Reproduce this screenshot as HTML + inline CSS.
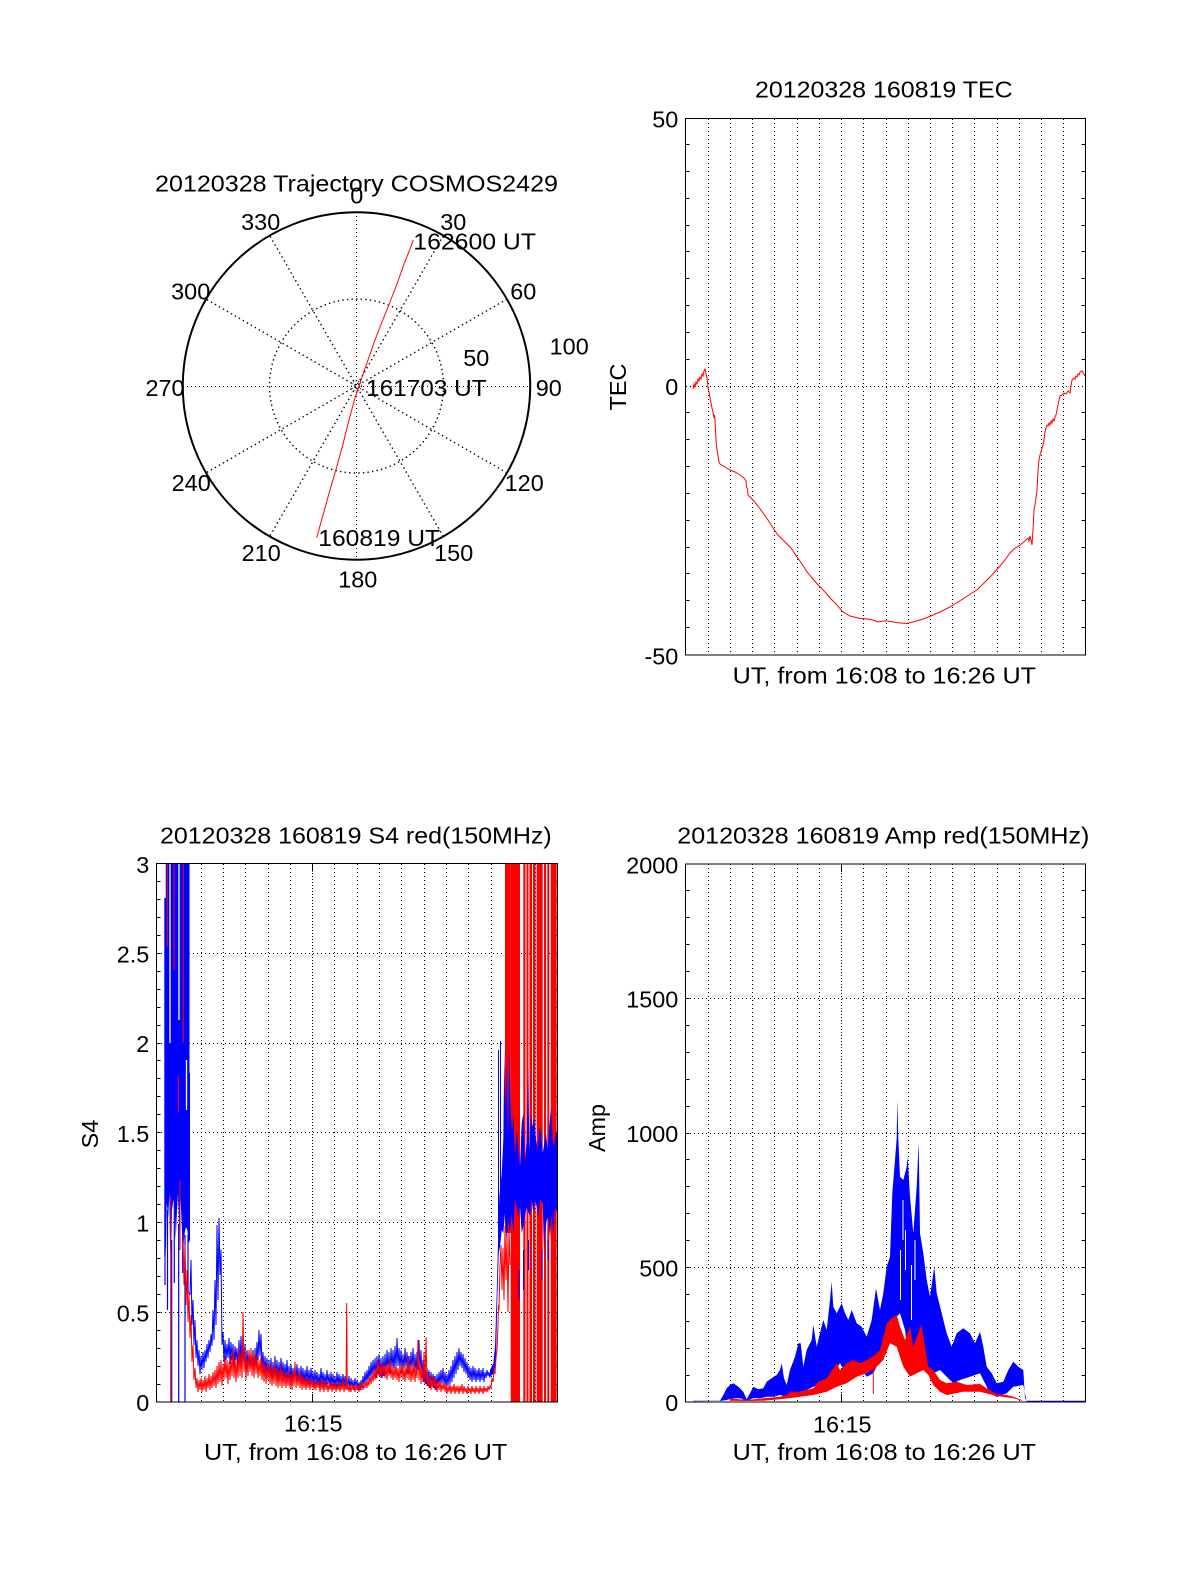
<!DOCTYPE html>
<html>
<head>
<meta charset="utf-8">
<style>
html,body{margin:0;padding:0;background:#fff;}
svg{display:block;}
text{font-family:"Liberation Sans",Arial,sans-serif;font-size:23.4px;fill:#000;}
.dot{stroke:#000;stroke-width:1;stroke-dasharray:1 3;fill:none;shape-rendering:crispEdges;}
.pdot{stroke:#000;stroke-width:1.4;stroke-dasharray:1.4 3.2;fill:none;}
.ax{stroke:#000;stroke-width:1;fill:none;shape-rendering:crispEdges;}
</style>
</head>
<body>
<svg width="1200" height="1575" viewBox="0 0 1200 1575" xmlns="http://www.w3.org/2000/svg">
<rect x="0" y="0" width="1200" height="1575" fill="#fff"/>

<!-- ================= POLAR PLOT ================= -->
<g>
  <path class="pdot" d="M443.35,235.57L269.65,536.43 M506.93,299.15L206.07,472.85 M506.93,472.85L206.07,299.15 M443.35,536.43L269.65,235.57"/>
  <path class="dot" d="M356.5,212V560 M183,386.5H530"/>
  <circle class="pdot" cx="356.5" cy="386" r="87"/>
  <circle class="pdot" cx="356.5" cy="386" r="5" style="stroke-dasharray:1 1.5;stroke-width:1"/>
  <circle cx="356.5" cy="386" r="173.7" fill="none" stroke="#000" stroke-width="2"/>
  <polyline fill="none" stroke="#ff0000" stroke-width="1" points="316.7,537.7 323,515 330,490 337,466 343,444 349,420 355,398 358.3,388.3 362,377 368,360 375,340 382,322 390,302 397,284 404,264 410,249 413.3,240"/>
  <text x="155" y="191.7" textLength="403" lengthAdjust="spacingAndGlyphs">20120328 Trajectory COSMOS2429</text>
  <text x="356.7" y="203.3" text-anchor="middle">0</text>
  <text x="453.3" y="230" text-anchor="middle">30</text>
  <text x="260.7" y="230" text-anchor="middle">330</text>
  <text x="523.3" y="299.3" text-anchor="middle">60</text>
  <text x="190.7" y="299.3" text-anchor="middle">300</text>
  <text x="569.2" y="354.3" text-anchor="middle">100</text>
  <text x="476.3" y="366" text-anchor="middle">50</text>
  <text x="165" y="396" text-anchor="middle">270</text>
  <text x="548.8" y="396" text-anchor="middle">90</text>
  <text x="191.2" y="491" text-anchor="middle">240</text>
  <text x="524.2" y="491" text-anchor="middle">120</text>
  <text x="261.2" y="561" text-anchor="middle">210</text>
  <text x="453.7" y="561" text-anchor="middle">150</text>
  <text x="357.8" y="587.3" text-anchor="middle">180</text>
  <text x="413.3" y="249.3" textLength="122.7" lengthAdjust="spacingAndGlyphs">162600 UT</text>
  <text x="366" y="396" textLength="120.7" lengthAdjust="spacingAndGlyphs">161703 UT</text>
  <text x="318.3" y="546" textLength="121.7" lengthAdjust="spacingAndGlyphs">160819 UT</text>
</g>

<!-- ================= TEC PLOT ================= -->
<g>
  <path class="dot" d="M708.5,119V655 M730.5,119V655 M752.5,119V655 M774.5,119V655 M797.5,119V655 M819.5,119V655 M841.5,119V655 M863.5,119V655 M886.5,119V655 M908.5,119V655 M930.5,119V655 M952.5,119V655 M974.5,119V655 M997.5,119V655 M1019.5,119V655 M1041.5,119V655 M1063.5,119V655 M686,386.5H1085"/>
  <path class="ax" d="M685.5,144.5h4M685.5,171.5h4M685.5,198.5h4M685.5,225.5h4M685.5,251.5h4M685.5,278.5h4M685.5,305.5h4M685.5,332.5h4M685.5,359.5h4M685.5,412.5h4M685.5,439.5h4M685.5,466.5h4M685.5,493.5h4M685.5,520.5h4M685.5,547.5h4M685.5,573.5h4M685.5,600.5h4M685.5,627.5h4
  M1085.5,144.5h-4M1085.5,171.5h-4M1085.5,198.5h-4M1085.5,225.5h-4M1085.5,251.5h-4M1085.5,278.5h-4M1085.5,305.5h-4M1085.5,332.5h-4M1085.5,359.5h-4M1085.5,412.5h-4M1085.5,439.5h-4M1085.5,466.5h-4M1085.5,493.5h-4M1085.5,520.5h-4M1085.5,547.5h-4M1085.5,573.5h-4M1085.5,600.5h-4M1085.5,627.5h-4"/>
  <polyline fill="none" stroke="#ff0000" stroke-width="1" points="693,389 694,384 695,387 696,382 697,384 698,379 699,381 700,377 701,379 702,374 703,376 704,371 705,369 706,374 707,378 708,387 709,392 710,398 711,403 712,408 713,412 714,418 714.5,415 715,420 715.5,430 716,440 717,450 718,456 719,462 720,464 725,467 730,470 735,472 740,475 744,478 746,481 746.5,487 747.5,489 748,495 753,500 758,506 763,513 768,520 773,528 778,535 786,543 791,548 797,557 802,564 807,572 813,579 820,587 825,592 830,598 836,604 843,612 850,616 860,618.5 868,619 873,620 878,622 883,621 888,621 893,622 900,623 907,623.5 913,622 920,620 926,618 933,615 940,612 950,607 958,602 966,597 972,593 977,590 982,585 987,580 993,574 1000,566 1005,560 1010,553 1014,549 1020,545 1025,541 1028,538 1029,541 1030,536 1031,540 1032,545 1033,530 1034,510 1035,505 1036,498 1037,490 1038,470 1039,460 1040,455 1041,452 1042,448 1043,445 1044,440 1045,432 1046,428 1047,425 1048,426 1049,423 1050,425 1051,421 1052,423 1053,419 1054,421 1055,417 1056,415 1057,410 1058,405 1059,400 1060,396 1062,395 1064,393 1066,394 1068,391 1070,393 1071,386 1072,380 1074,378 1075,379 1076,376 1077,377 1078,374 1079,375 1080,372 1082,371 1084,374 1085,376"/>
  <rect class="ax" x="685.5" y="118.5" width="400" height="536.5"/>
  <text x="755" y="97.3" textLength="257.7" lengthAdjust="spacingAndGlyphs">20120328 160819 TEC</text>
  <text x="678.3" y="127.3" text-anchor="end">50</text>
  <text x="678.3" y="395" text-anchor="end">0</text>
  <text x="678.3" y="664.5" text-anchor="end">-50</text>
  <text transform="translate(626,387) rotate(-90)" text-anchor="middle">TEC</text>
  <text x="732.7" y="683.3" textLength="303.3" lengthAdjust="spacingAndGlyphs">UT, from 16:08 to 16:26 UT</text>
</g>

<!-- ================= S4 PLOT ================= -->
<g>
  <path class="dot" d="M178.5,864V1402 M201.5,864V1402 M223.5,864V1402 M245.5,864V1402 M268.5,864V1402 M290.5,864V1402 M334.5,864V1402 M357.5,864V1402 M379.5,864V1402 M401.5,864V1402 M424.5,864V1402 M446.5,864V1402 M468.5,864V1402 M491.5,864V1402 M513.5,864V1402 M535.5,864V1402
  M157,1312.5H557 M157,1222.5H557 M157,1132.5H557 M157,1043.5H557 M157,953.5H557"/>
  <path d="M312.5,864V1402" stroke="#000" stroke-width="1" stroke-dasharray="1 2" shape-rendering="crispEdges"/>
  <path class="ax" d="M312.5,1402v-8M312.5,863.5v8"/>
  <path class="ax" d="M156.5,1384.5h4M156.5,1366.5h4M156.5,1348.5h4M156.5,1330.5h4M156.5,1312.5h4M156.5,1294.5h4M156.5,1276.5h4M156.5,1258.5h4M156.5,1240.5h4M156.5,1222.5h4M156.5,1204.5h4M156.5,1186.5h4M156.5,1168.5h4M156.5,1150.5h4M156.5,1132.5h4M156.5,1114.5h4M156.5,1096.5h4M156.5,1078.5h4M156.5,1060.5h4M156.5,1043.5h4M156.5,1025.5h4M156.5,1007.5h4M156.5,989.5h4M156.5,971.5h4M156.5,953.5h4M156.5,935.5h4M156.5,917.5h4M156.5,899.5h4M156.5,881.5h4
  M557.5,1384.5h-4M557.5,1366.5h-4M557.5,1348.5h-4M557.5,1330.5h-4M557.5,1312.5h-4M557.5,1294.5h-4M557.5,1276.5h-4M557.5,1258.5h-4M557.5,1240.5h-4M557.5,1222.5h-4M557.5,1204.5h-4M557.5,1186.5h-4M557.5,1168.5h-4M557.5,1150.5h-4M557.5,1132.5h-4M557.5,1114.5h-4M557.5,1096.5h-4M557.5,1078.5h-4M557.5,1060.5h-4M557.5,1043.5h-4M557.5,1025.5h-4M557.5,1007.5h-4M557.5,989.5h-4M557.5,971.5h-4M557.5,953.5h-4M557.5,935.5h-4M557.5,917.5h-4M557.5,899.5h-4M557.5,881.5h-4"/>

  <!-- red right bars -->
  <g fill="#ff0000">
    <rect x="505" y="864" width="5.7" height="369"/>
    <rect x="510.7" y="864" width="9.3" height="538"/>
    <rect x="523.3" y="864" width="2.2" height="538"/>
    <rect x="526.5" y="864" width="2" height="538"/>
    <rect x="529.5" y="864" width="2.5" height="538"/>
    <rect x="533" y="864" width="2.5" height="538"/>
    <rect x="536.7" y="864" width="6" height="538"/>
    <rect x="544" y="864" width="2" height="538"/>
    <rect x="547.3" y="864" width="2" height="538"/>
    <rect x="550.7" y="864" width="6" height="538"/>
  </g>

  <!-- blue left block -->
  <polygon fill="#0000ff" points="164.3,898 165.7,898 165.7,864 189.5,864 189.5,1073 190,1073 190,1240 188.7,1243 187.3,1230 186,1227 184.7,1233 183.3,1247 182,1233 180.7,1200 179.3,1233 178,1193 176.7,1217 175.7,1240 174.7,1207 173.3,1200 172,1210 171,1263 170,1247 169.3,1193 168.3,1217 166.7,1203 166,1247 165,1263 164.3,1255"/>
  <path stroke="#0000ff" stroke-width="1.2" fill="none" d="M171.7,1240V1402 M178.7,1225V1402 M185,1235V1402 M174.3,1200V1283 M182.7,1230V1273 M188,1235V1293 M165,1250V1285 M167.5,1210V1310"/>
  <path stroke="#fff" stroke-width="1.3" fill="none" d="M170,864V1043 M179,864V1020 M186.5,1060V1110"/>
  <path stroke="#ff0000" stroke-width="1" fill="none" d="M167.3,864V947 M174,864V970 M178.3,1075V1112 M183.3,864V1043 M170.7,1197V1402 M180,1180V1250"/>

  <!-- blue middle trace -->
  <polyline fill="none" stroke="#0000ff" stroke-width="1" points="190,1295 191,1260 192,1325 193,1300 194,1345 195,1320 196,1358 197,1340 198,1366 199,1350 200,1374 201,1356 202,1370 203,1352 204,1368 205,1350 206,1362 207,1344 208,1358 209,1340 210,1352 211,1334 212,1346 213,1310 214,1340 215,1280 216,1325 217,1225 218,1300 219,1218 220,1275 221,1250 222,1345 223,1332 224,1362 225,1340 226,1360 227,1344 228,1358 229,1338 230,1364 231,1342 232,1360 233,1344 234,1366 235,1346 236,1360 237,1348 238,1368 239,1340 240,1362 241,1336 242,1368 243,1348 244,1364 245,1344 246,1372 247,1350 248,1366 249,1352 250,1370 251,1354 252,1368 253,1350 254,1372 255,1348 256,1366 257,1342 258,1360 259,1330 260,1356 261,1334 262,1368 263,1352 264,1374 265,1356 266,1372 267,1358 268,1378 269,1360 270,1376 271,1358 272,1380 273,1362 274,1378 275,1356 276,1376 277,1360 278,1380 279,1362 280,1377 281,1358 282,1376 283,1362 284,1380 285,1364 286,1378 287,1360 288,1380 289,1366 290,1382 291,1364 292,1380 293,1368 294,1382 295,1366 296,1380 297,1364 298,1382 299,1368 300,1384 301,1366 302,1382 303,1368 304,1384 305,1370 306,1382 307,1366 308,1384 309,1370 310,1384 311,1368 312,1382 313,1372 314,1386 315,1370 316,1384 317,1372 318,1386 319,1374 320,1386 321,1368 322,1384 323,1372 324,1386 325,1374 326,1386 327,1370 328,1384 329,1374 330,1388 331,1372 332,1386 333,1374 334,1388 335,1376 336,1388 337,1372 338,1386 339,1374 340,1386 341,1376 342,1388 343,1374 344,1386 345,1376 346,1390 347,1378 348,1388 349,1376 350,1390 351,1378 352,1388 353,1380 354,1390 355,1378 356,1388 357,1380 358,1390 359,1382 360,1390 361,1380 362,1388 363,1376 364,1386 365,1372 366,1384 367,1370 368,1382 369,1366 370,1380 371,1362 372,1378 373,1360 374,1376 375,1358 376,1378 377,1356 378,1374 379,1354 380,1376 381,1358 382,1378 383,1356 384,1376 385,1354 386,1374 387,1350 388,1372 389,1352 390,1374 391,1348 392,1370 393,1350 394,1372 395,1346 396,1368 397,1338 398,1366 399,1348 400,1370 401,1350 402,1372 403,1354 404,1370 405,1348 406,1368 407,1352 408,1374 409,1356 410,1372 411,1352 412,1370 413,1348 414,1372 415,1354 416,1374 417,1352 418,1370 419,1340 420,1372 421,1350 422,1378 423,1360 424,1382 425,1364 426,1384 427,1368 428,1386 429,1370 430,1388 431,1372 432,1386 433,1374 434,1388 435,1376 436,1390 437,1374 438,1388 439,1372 440,1386 441,1370 442,1384 443,1368 444,1386 445,1372 446,1388 447,1374 448,1386 449,1370 450,1384 451,1366 452,1382 453,1360 454,1378 455,1356 456,1374 457,1352 458,1370 459,1348 460,1366 461,1352 462,1368 463,1354 464,1372 465,1358 466,1374 467,1362 468,1378 469,1366 470,1380 471,1368 472,1382 473,1366 474,1380 475,1368 476,1382 477,1370 478,1380 479,1368 480,1382 481,1370 482,1380 483,1368 484,1382 485,1372 486,1378 487,1370 488,1376 489,1372 490,1378"/>

  <!-- blue right band -->
  <polygon fill="#0000ff" points="490,1370 493.3,1363.3 495,1346.7 496.7,1293.3 498.3,1230 499.3,1196.7 501.7,1173.3 503.3,1140 504.3,1050 505.3,1106.7 506.7,1066.7 508,1140 509.3,1043.3 510.7,1110 512,1133.3 513.3,1113.3 515,1156.7 516.7,1130 518.3,1150 520,1166.7 521.7,1123.3 523.3,1113.3 525,1163.3 526.7,1140 528.3,1061.7 529.3,1150 531,1113.3 532.7,1126.7 534.3,1118.3 536,1140 537.7,1150 539.3,1126.7 541,1133.3 542.7,1153.3 544.3,1143.3 546,1133.3 547.7,1150 549.3,1126.7 551,1106.7 552.7,1140 554.3,1146.7 556,1131.7 557.3,1133.3 557.3,1213.3 555,1206.7 553.3,1233.3 551.7,1213.3 550,1236.7 548.3,1216.7 546.7,1220 545,1233.3 544,1253.3 542.7,1203.3 540,1200 538.3,1216.7 536.7,1206.7 535,1200 533.3,1213.3 531.7,1200 530,1216.7 526.7,1206.7 523.3,1226.7 521.7,1233.3 520,1206.7 518.3,1216.7 516.7,1206.7 515,1200 513.3,1233.3 511.7,1213.3 510,1233.3 508.3,1220 506.7,1243.3 505,1213.3 503.3,1233.3 501.7,1230 500,1246.7 498.7,1253.3 497.3,1300 496,1360 494,1373.3 490,1376.7"/>
  <path stroke="#0000ff" stroke-width="1" fill="none" d="M498.5,1050V1250 M500.5,1041V1200 M519,1270V1300 M523.5,1250V1290 M528.5,1240V1270 M542,1250V1280 M548,1240V1260"/>

  <!-- red middle trace -->
  <polyline fill="none" stroke="#ff0000" stroke-width="1" points="183,1235 184,1285 185,1245 186,1305 187,1270 188,1322 189,1292 190,1338 191,1315 192,1362 193,1345 194,1380 195,1368 196,1388 197,1378 198,1392 199,1380 200,1390 201,1378 202,1392 203,1380 204,1390 205,1376 206,1392 207,1378 208,1388 209,1374 210,1390 211,1376 212,1388 213,1372 214,1386 215,1370 216,1388 217,1366 218,1384 219,1362 220,1382 221,1360 222,1386 223,1364 224,1380 225,1356 226,1378 227,1360 228,1384 229,1362 230,1380 231,1356 232,1376 233,1350 234,1378 235,1356 236,1382 237,1360 238,1378 239,1348 240,1376 241,1352 242,1378 243,1312 244,1372 245,1350 246,1380 247,1358 248,1376 249,1350 250,1372 251,1348 252,1376 253,1354 254,1378 255,1352 256,1374 257,1356 258,1378 259,1360 260,1376 261,1356 262,1380 263,1362 264,1382 265,1364 266,1384 267,1366 268,1380 269,1362 270,1384 271,1366 272,1386 273,1368 274,1384 275,1362 276,1386 277,1368 278,1388 279,1370 280,1386 281,1366 282,1388 283,1370 284,1386 285,1372 286,1388 287,1374 288,1386 289,1370 290,1388 291,1374 292,1390 293,1372 294,1386 295,1362 296,1388 297,1374 298,1386 299,1372 300,1388 301,1374 302,1390 303,1376 304,1388 305,1378 306,1390 307,1378 308,1388 309,1380 310,1390 311,1378 312,1388 313,1380 314,1390 315,1382 316,1390 317,1380 318,1388 319,1382 320,1392 321,1380 322,1390 323,1382 324,1392 325,1380 326,1390 327,1382 328,1392 329,1384 330,1390 331,1382 332,1392 333,1384 334,1390 335,1382 336,1392 337,1384 338,1390 339,1382 340,1392 341,1384 342,1390 343,1380 344,1392 345,1384 346,1390 346.7,1303 347.3,1390 348,1384 349,1392 350,1386 351,1392 352,1384 353,1390 354,1386 355,1392 356,1384 357,1390 358,1386 359,1392 360,1384 361,1390 362,1382 363,1390 364,1384 365,1388 366,1380 367,1388 368,1380 369,1386 370,1376 371,1384 372,1374 373,1382 374,1370 375,1380 376,1368 377,1378 378,1360 379,1376 380,1366 381,1378 382,1364 383,1376 384,1362 385,1378 386,1366 387,1380 388,1364 389,1376 390,1360 391,1378 392,1366 393,1380 394,1368 395,1378 396,1364 397,1380 398,1368 399,1382 400,1366 401,1378 402,1362 403,1380 404,1368 405,1382 406,1366 407,1378 408,1356 409,1380 410,1364 411,1382 412,1366 413,1380 414,1360 415,1382 416,1368 417,1378 418,1340 419,1380 420,1362 421,1384 422,1368 423,1382 424,1352 425,1384 426,1337 427,1386 428,1372 429,1388 430,1376 431,1390 432,1378 433,1388 434,1376 435,1390 436,1380 437,1392 438,1382 439,1390 440,1380 441,1392 442,1384 443,1390 444,1382 445,1392 446,1384 447,1394 448,1386 449,1392 450,1384 451,1394 452,1386 453,1392 454,1384 455,1394 456,1386 457,1392 458,1386 459,1394 460,1386 461,1392 462,1384 463,1394 464,1386 465,1392 466,1388 467,1394 468,1386 469,1392 470,1388 471,1394 472,1386 473,1392 474,1388 475,1394 476,1386 477,1392 478,1388 479,1394 480,1386 481,1392 482,1388 483,1394 484,1386 485,1392 486,1388 487,1392 488,1386 489,1390 490,1386 491,1388 492,1378 493,1382 494,1370 495,1374 496,1358 497,1350 498,1325 498.5,1305 499,1310 500,1265 501,1245 502,1290 503,1248 504,1300 505,1226 506,1280 507,1235 508,1312 509,1230 510,1265"/>

  <rect class="ax" x="156.5" y="863.5" width="401" height="538.5"/>
  <text x="160" y="843.3" textLength="391.7" lengthAdjust="spacingAndGlyphs">20120328 160819 S4 red(150MHz)</text>
  <text x="149.3" y="873" text-anchor="end">3</text>
  <text x="149.3" y="962.3" text-anchor="end">2.5</text>
  <text x="149.3" y="1052" text-anchor="end">2</text>
  <text x="149.3" y="1141.8" text-anchor="end">1.5</text>
  <text x="149.3" y="1231.5" text-anchor="end">1</text>
  <text x="149.3" y="1321.3" text-anchor="end">0.5</text>
  <text x="149.3" y="1411" text-anchor="end">0</text>
  <text transform="translate(98,1134) rotate(-90)" text-anchor="middle">S4</text>
  <text x="313.3" y="1431.7" text-anchor="middle">16:15</text>
  <text x="204" y="1460" textLength="303.3" lengthAdjust="spacingAndGlyphs">UT, from 16:08 to 16:26 UT</text>
</g>

<!-- ================= AMP PLOT ================= -->
<g>
  <path class="dot" d="M708.5,864V1402 M730.5,864V1402 M752.5,864V1402 M774.5,864V1402 M797.5,864V1402 M819.5,864V1402 M863.5,864V1402 M886.5,864V1402 M908.5,864V1402 M930.5,864V1402 M952.5,864V1402 M974.5,864V1402 M997.5,864V1402 M1019.5,864V1402 M1041.5,864V1402 M1063.5,864V1402
  M686,1267.5H1085 M686,1133.5H1085 M686,998.5H1085"/>
  <path d="M841.5,864V1402" stroke="#000" stroke-width="1" stroke-dasharray="1 2" shape-rendering="crispEdges"/>
  <path class="ax" d="M841.5,1402v-8M841.5,864v8"/>
  <path class="ax" d="M685.5,1375.5h4M685.5,1348.5h4M685.5,1321.5h4M685.5,1294.5h4M685.5,1267.5h4M685.5,1240.5h4M685.5,1213.5h4M685.5,1186.5h4M685.5,1159.5h4M685.5,1133.5h4M685.5,1106.5h4M685.5,1079.5h4M685.5,1052.5h4M685.5,1025.5h4M685.5,998.5h4M685.5,971.5h4M685.5,944.5h4M685.5,917.5h4M685.5,890.5h4
  M1085.5,1375.5h-4M1085.5,1348.5h-4M1085.5,1321.5h-4M1085.5,1294.5h-4M1085.5,1267.5h-4M1085.5,1240.5h-4M1085.5,1213.5h-4M1085.5,1186.5h-4M1085.5,1159.5h-4M1085.5,1133.5h-4M1085.5,1106.5h-4M1085.5,1079.5h-4M1085.5,1052.5h-4M1085.5,1025.5h-4M1085.5,998.5h-4M1085.5,971.5h-4M1085.5,944.5h-4M1085.5,917.5h-4M1085.5,890.5h-4"/>

  <polygon fill="#0000ff" points="693.3,1400.7 720,1400.7 723.3,1395 726.7,1388.3 730,1385 733.3,1383.3 738.3,1386.7 743.3,1391.7 746.7,1399.3 750,1393.3 753.3,1386.7 758.3,1389.3 763.3,1388.3 766.7,1381.7 771.7,1378.3 776.7,1375 780,1370 781.7,1363.3 784,1378.3 786.7,1385 790,1370 795,1356.7 798.3,1343.3 800.7,1343.3 803.3,1366.7 806.7,1350 811.7,1340 813.3,1325 816.7,1346.7 820,1333.3 823.3,1320 826.7,1330 830,1300 831.7,1281.7 833.3,1306.7 836.7,1313.3 841.7,1303.3 845,1313.3 848.3,1320 851.7,1310 856.7,1323.3 861.7,1326.7 866.7,1336.7 871.7,1320 876,1288.3 880,1310 883.3,1293.3 886.7,1266.7 890,1256.7 892.3,1193.3 895,1160 896.7,1138.3 897.3,1100 898.3,1138.3 900,1176.7 903.3,1180 906.7,1166.7 907.7,1156.7 910,1196.7 913.3,1233.3 916.7,1186.7 918.7,1141.7 920,1233.3 923.3,1253.3 926.7,1280 930,1296.7 934.3,1266.7 936.7,1293.3 941.7,1313.3 946.7,1333.3 951.7,1346.7 956.7,1333.3 963.3,1328.3 970,1333.3 975,1343.3 980,1331.7 983.3,1346.7 986.7,1366.7 991.7,1373.3 996.7,1383.3 1003.3,1381.7 1008.3,1370 1013.3,1361.7 1018.3,1366.7 1023.3,1370 1025,1398.3 1026.7,1400.7 1085,1400.7 1085,1402 1026.7,1402 1023.3,1385 1013.3,1386.7 1006.7,1393.3 996.7,1396.7 990,1393.3 980,1373.3 970,1376.7 960,1380 953.3,1383.3 946.7,1376.7 940,1370 933.3,1373.3 926.7,1366.7 920,1366.7 913.3,1353.3 910,1370 905,1330 900,1313.3 893.3,1320 886.7,1340 880,1360 873.3,1373.3 866.7,1376.7 860,1366.7 853.3,1370 846.7,1373.3 840,1363.3 833.3,1373.3 826.7,1380 820,1383.3 813.3,1386.7 806.7,1390 800,1391.7 793.3,1393.3 786.7,1396.7 780,1395 773.3,1396.7 766.7,1396.7 760,1398.3 753.3,1398.3 746.7,1400.7 740,1398.3 733.3,1398.3 726.7,1400 720,1401 693.3,1401.3"/>
  <!-- white gaps in blue noise -->
  <path stroke="#fff" stroke-width="1" fill="none" d="M900.5,1250V1300 M911.5,1265V1320 M903,1200V1240 M905.5,1230V1270 M915,1240V1280"/>
  <polygon fill="#ff0000" points="730,1398.3 746.7,1400 763.3,1398.3 780,1396.7 786.7,1395 790,1391.7 800,1391.7 813.3,1388.3 818.3,1381.7 826.7,1378.3 836.7,1363.3 840,1370 846.7,1363.3 853.3,1360 860,1363.3 866.7,1360 873.3,1356.7 880,1350 886.7,1323.3 891.7,1318.3 896.7,1315 900,1326.7 905,1340 910,1326.7 913.3,1346.7 918.3,1333.3 921.7,1325 925,1346.7 928.3,1366.7 933.3,1370 940,1380 946.7,1383.3 956.7,1381.7 966.7,1385 980,1384 986.7,1388.3 996.7,1394 1006.7,1395 1013.3,1396.7 1020,1399.3 1023.3,1401 1013.3,1398.3 996.7,1396 980,1391.7 963.3,1391.7 946.7,1395 940,1391.7 933.3,1385 928.3,1375 923.3,1370 916.7,1373.3 910,1376.7 903.3,1366.7 896.7,1346.7 890,1343.3 883.3,1360 876.7,1366.7 866.7,1373.3 856.7,1376.7 846.7,1383.3 836.7,1386.7 826.7,1391.7 813.3,1395 796.7,1397.3 780,1399.3 763.3,1400.7 746.7,1401 730,1400.7"/>
  <path stroke="#ff0000" stroke-width="1" fill="none" d="M873.3,1355V1394"/>

  <rect class="ax" x="685.5" y="864" width="400" height="538"/>
  <text x="677.3" y="843.3" textLength="412" lengthAdjust="spacingAndGlyphs">20120328 160819 Amp red(150MHz)</text>
  <text x="678.3" y="873.3" text-anchor="end">2000</text>
  <text x="678.3" y="1007.3" text-anchor="end">1500</text>
  <text x="678.3" y="1142" text-anchor="end">1000</text>
  <text x="678.3" y="1276.5" text-anchor="end">500</text>
  <text x="678.3" y="1411" text-anchor="end">0</text>
  <text transform="translate(605,1128) rotate(-90)" text-anchor="middle">Amp</text>
  <text x="842.3" y="1432.3" text-anchor="middle">16:15</text>
  <text x="732.7" y="1460" textLength="303.3" lengthAdjust="spacingAndGlyphs">UT, from 16:08 to 16:26 UT</text>
</g>
</svg>
</body>
</html>
